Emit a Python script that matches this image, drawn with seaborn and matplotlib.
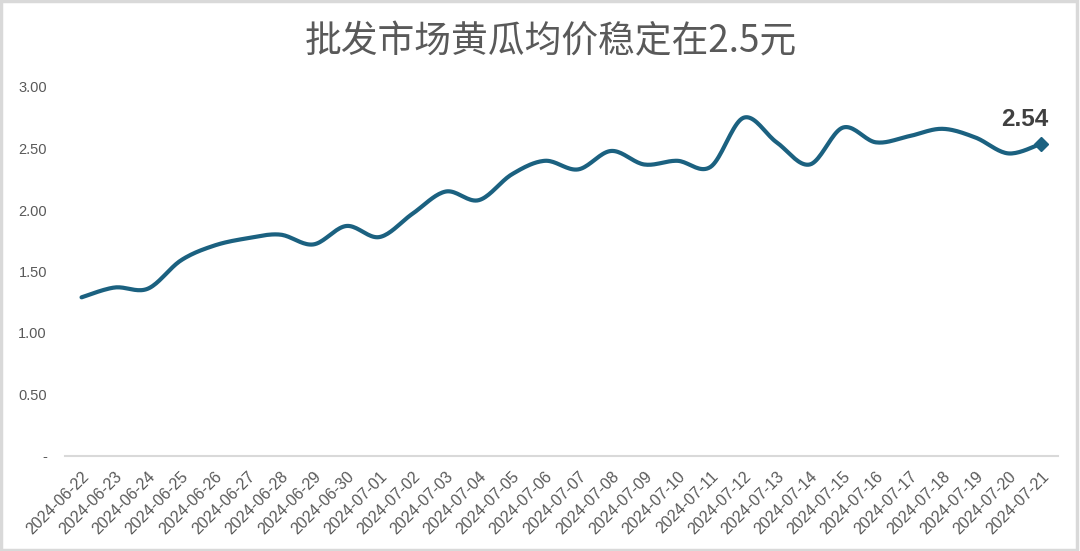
import numpy as np
import pandas as pd
import matplotlib
matplotlib.use("Agg")
import matplotlib.pyplot as plt
import seaborn as sns
from matplotlib.patches import Rectangle

sns.set_theme(style="white")
plt.rcParams['font.family'] = ['Liberation Sans', 'Noto Sans CJK SC', 'DejaVu Sans']

# data
dates = pd.date_range("2024-06-22", "2024-07-21").strftime("%Y-%m-%d").tolist()
prices = [1.29, 1.37, 1.36, 1.59, 1.71, 1.77, 1.80, 1.72, 1.87, 1.78,
          1.97, 2.15, 2.08, 2.29, 2.40, 2.33, 2.48, 2.37, 2.40, 2.35,
          2.75, 2.55, 2.37, 2.67, 2.55, 2.60, 2.66, 2.59, 2.46, 2.54]
title = "批发市场黄瓜均价稳定在2.5元"
line_color = "#1b6180"
text_gray = "#595959"


def smooth(x, y, steps=20):
    # Catmull-Rom style smoothing, similar to Excel's "smoothed line"
    x = np.asarray(x, float)
    y = np.asarray(y, float)
    px = np.concatenate([[x[0]], x, [x[-1]]])
    py = np.concatenate([[y[0]], y, [y[-1]]])
    xs, ys = [], []
    t = np.linspace(0, 1, steps, endpoint=False)
    for i in range(1, len(px) - 2):
        p0, p1, p2, p3 = [np.array([px[j], py[j]]) for j in (i - 1, i, i + 1, i + 2)]
        c1 = p1 + (p2 - p0) / 6
        c2 = p2 - (p3 - p1) / 6
        pts = ((1 - t)[:, None] ** 3 * p1 + 3 * ((1 - t) ** 2 * t)[:, None] * c1
               + 3 * ((1 - t) * t ** 2)[:, None] * c2 + (t ** 3)[:, None] * p2)
        xs.extend(pts[:, 0])
        ys.extend(pts[:, 1])
    xs.append(x[-1])
    ys.append(y[-1])
    return np.array(xs), np.array(ys)


idx = np.arange(len(dates))
sx, sy = smooth(idx, prices)
curve = pd.DataFrame({"x": sx, "y": sy})

fig = plt.figure(figsize=(10.8, 5.51), dpi=100)
ax = fig.add_axes([65 / 1080, 1 - 456 / 551, 993 / 1080, 369 / 551])

sns.lineplot(data=curve, x="x", y="y", ax=ax, color=line_color, linewidth=3,
             sort=False, estimator=None)
ax.plot(idx[-1], prices[-1], marker="D", markersize=7.5, color=line_color,
        linestyle="none")
ax.annotate(f"{prices[-1]:.2f}", (idx[-1], prices[-1]), xytext=(-12, 9),
            textcoords="offset points", ha="center", va="bottom",
            fontsize=17.5, fontweight="bold", color="#404040")

ax.set_xlim(-0.5, len(dates) - 0.5)
ax.set_ylim(0, 3.0)
ax.set_xticks(idx)
ax.set_xticklabels(dates, rotation=45, ha="right", rotation_mode="anchor",
                   fontsize=11.5, color=text_gray)
yt = np.arange(0, 3.01, 0.5)
ax.set_yticks(yt)
ax.set_yticklabels(["-" if v == 0 else f"{v:.2f}" for v in yt],
                   fontsize=10.5, color=text_gray)
ax.tick_params(axis="both", length=0)
ax.tick_params(axis="y", pad=13)
ax.tick_params(axis="x", pad=9)
ax.set_xlabel("")
ax.set_ylabel("")
for side in ["top", "right", "left"]:
    ax.spines[side].set_visible(False)
ax.spines["bottom"].set_color("#d9d9d9")
ax.spines["bottom"].set_linewidth(1.5)

fig.text(551 / 1080, 1 - 42 / 551, title, ha="center", va="center",
         fontsize=26.5, color=text_gray, family=["Noto Sans CJK SC", "DejaVu Sans"])

# light frame around the chart area
fig.patches.append(Rectangle((0.001, 0.002), 0.996, 0.996, transform=fig.transFigure,
                             fill=False, edgecolor="#d9d9d9", linewidth=2.5))

fig.savefig("out.png", dpi=100, facecolor="white")
